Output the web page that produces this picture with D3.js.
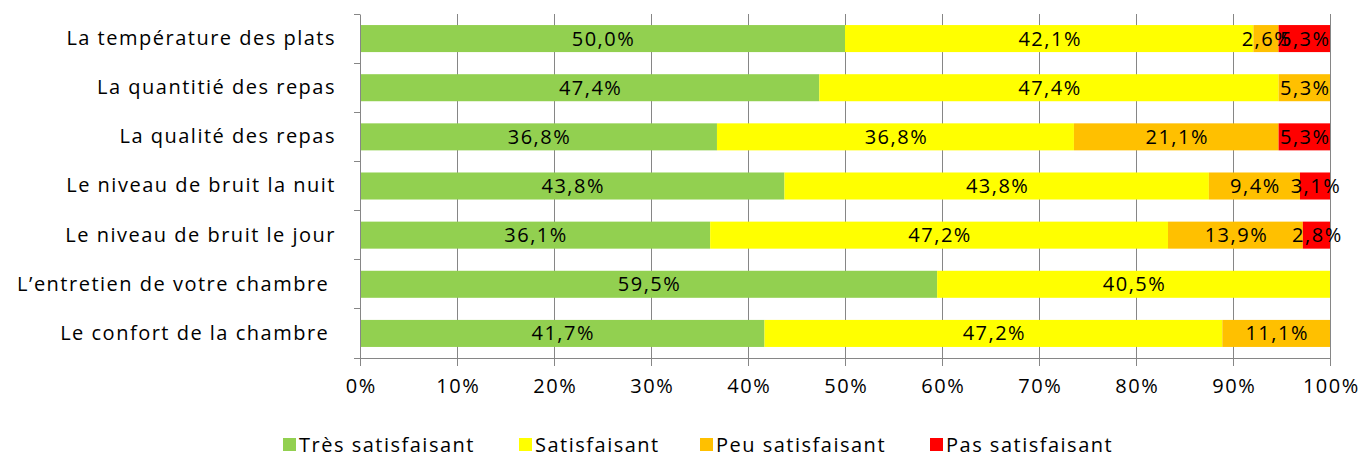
<!DOCTYPE html>
<meta charset="utf-8">
<style>
body { margin: 0; background: #fff; }
text { font-family: "Open Sans", Lato, sans-serif; fill: #000; letter-spacing: 1.5px; }
</style>
<svg width="1363" height="457"></svg>
<script src="https://d3js.org/d3.v7.min.js"></script>
<script>
var categories = [
  "La température des plats",
  "La quantitié des repas",
  "La qualité des repas",
  "Le niveau de bruit la nuit",
  "Le niveau de bruit le jour",
  "L\u2019entretien de votre chambre ",
  "Le confort de la chambre "
];
var series = ["Très satisfaisant", "Satisfaisant", "Peu satisfaisant", "Pas satisfaisant"];
var tresSatisfaisant = [50.0, 47.4, 36.8, 43.8, 36.1, 59.5, 41.7];
var satisfaisant     = [42.1, 47.4, 36.8, 43.8, 47.2, 40.5, 47.2];
var peuSatisfaisant  = [2.6, 5.3, 21.1, 9.4, 13.9, 0, 11.1];
var pasSatisfaisant  = [5.3, 0, 5.3, 3.1, 2.8, 0, 0];
var colors = ["#92D050", "#FFFF00", "#FFC000", "#FF0000"];
var ticks = [0, 10, 20, 30, 40, 50, 60, 70, 80, 90, 100];

var svg = d3.select("svg");
var margin = {left: 360, right: 33, top: 14, bottom: 99};
var width = 1363 - margin.left - margin.right,
    height = 457 - margin.top - margin.bottom;

var g = svg.append("g").attr("transform", "translate(" + margin.left + "," + margin.top + ")");

var x = d3.scaleLinear().domain([0, 100]).range([0, width]);
var y = d3.scaleBand().domain(categories).range([0, height]).paddingInner(0.45).paddingOuter(0.225);

var rows = categories.map(function(c, i) {
  var vals = [tresSatisfaisant[i], satisfaisant[i], peuSatisfaisant[i], pasSatisfaisant[i]];
  var total = d3.sum(vals);
  var acc = 0;
  return vals.map(function(v, k) {
    var s = {cat: c, k: k, v: v, x0: acc / total * 100, x1: (acc + v) / total * 100};
    acc += v;
    return s;
  });
});

// gridlines
g.append("g").selectAll("line").data(ticks.slice(1)).enter().append("line")
  .attr("x1", function(d) { return x(d); }).attr("x2", function(d) { return x(d); })
  .attr("y1", 0).attr("y2", height)
  .attr("stroke", "#868686").attr("stroke-width", 1).attr("shape-rendering", "crispEdges");

// bars
var segs = d3.merge(rows).filter(function(d) { return d.v > 0; });
g.append("g").selectAll("rect").data(segs).enter().append("rect")
  .attr("x", function(d) { return x(d.x0); })
  .attr("width", function(d) { return x(d.x1) - x(d.x0); })
  .attr("y", function(d) { return y(d.cat); })
  .attr("height", y.bandwidth())
  .attr("fill", function(d) { return colors[d.k]; });

g.append("g").selectAll("text").data(segs).enter().append("text")
  .attr("x", function(d) { return x((d.x0 + d.x1) / 2) + 1; })
  .attr("y", function(d) { return y(d.cat) + y.bandwidth() / 2; })
  .attr("dy", "0.35em")
  .attr("text-anchor", "middle")
  .style("font-size", "20px")
  .text(function(d) { return d3.format(".1f")(d.v).replace(".", ",") + "%"; });

// y axis
var yAxis = g.append("g")
  .call(d3.axisLeft(y).tickSize(0).tickPadding(24));
yAxis.select(".domain").attr("stroke", "#868686");
yAxis.selectAll("text").style("font-size", "20px").style("white-space", "pre");
var bounds = [0].concat(categories.map(function(c) { return y(c) + y.bandwidth() + y.step() * y.paddingInner() / 2; }));
bounds[bounds.length - 1] = height;
g.append("g").selectAll("line").data(bounds).enter().append("line")
  .attr("x1", -6).attr("x2", 0)
  .attr("y1", function(d) { return d; }).attr("y2", function(d) { return d; })
  .attr("stroke", "#868686").attr("shape-rendering", "crispEdges");

// x axis
var xAxis = g.append("g").attr("transform", "translate(0," + height + ")")
  .call(d3.axisBottom(x).tickValues(ticks).tickSize(8).tickPadding(13)
    .tickFormat(function(d) { return d + "%"; }));
xAxis.select(".domain").attr("stroke", "#868686").attr("d", "M-6,0.5H" + width);
xAxis.selectAll("line").attr("stroke", "#868686");
xAxis.selectAll("text").style("font-size", "20px").attr("dx", "0.04em");

// legend
var legendX = [283, 519, 700, 930];
var legend = svg.append("g").selectAll("g").data(series).enter().append("g")
  .attr("transform", function(d, i) { return "translate(" + legendX[i] + ",438)"; });
legend.append("rect").attr("width", 13).attr("height", 13)
  .attr("fill", function(d, i) { return colors[i]; });
legend.append("text").attr("x", 16).attr("y", 7).attr("dy", "0.35em")
  .style("font-size", "20px").text(function(d) { return d; });
</script>
